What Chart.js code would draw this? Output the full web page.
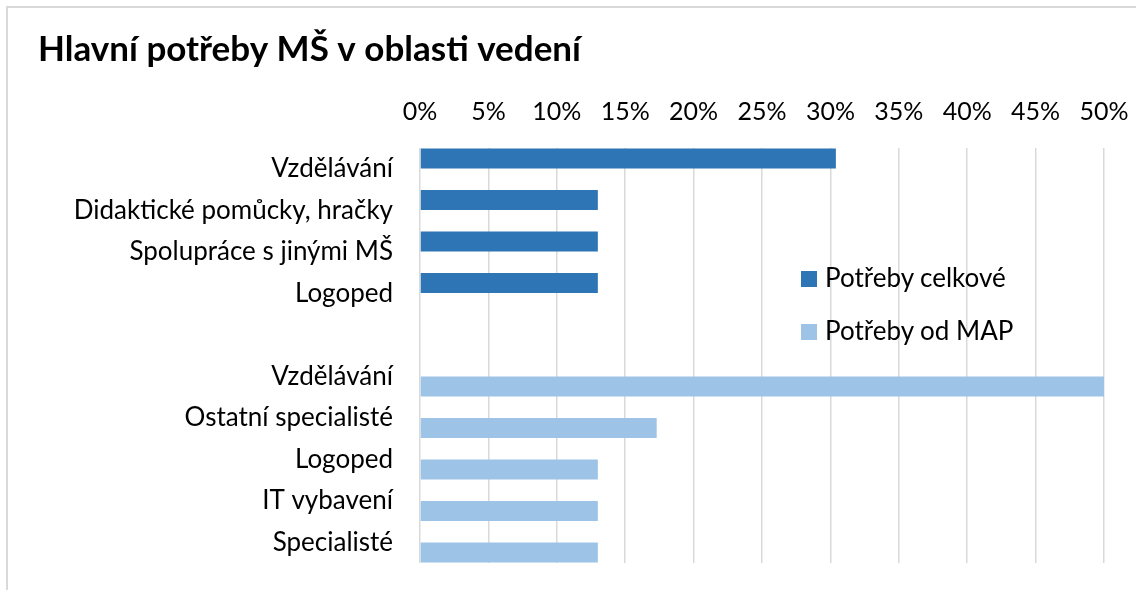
<!DOCTYPE html>
<html>
<head>
<meta charset="utf-8">
<script src="https://cdn.jsdelivr.net/npm/chart.js@4/dist/chart.umd.min.js"></script>
<style>
body { margin: 0; background: #fff; font-family: Lato, sans-serif; }
#frame { position: absolute; left: 6px; top: 6px; width: 1140px; height: 600px; border: 2px solid #d9d9d9; box-sizing: border-box; }
#wrap { position: absolute; left: 0; top: 0; width: 1136px; height: 590px; }
#legend { position: absolute; left: 801px; top: 262px; font-size: 26px; color: #000; }
.item { height: 53px; line-height: 30px; white-space: nowrap; }
.box { display: inline-block; width: 16px; height: 16px; margin-right: 8px; vertical-align: 0px; }
</style>
</head>
<body>
<div id="frame"></div>
<div id="wrap"><canvas id="canvasPotreby" width="1136" height="590"></canvas></div>
<div id="legend"></div>
<script>
var kategorie = ['Vzdělávání', 'Didaktické pomůcky, hračky', 'Spolupráce s jinými MŠ', 'Logoped', '',
    'Vzdělávání', 'Ostatní specialisté', 'Logoped', 'IT vybavení', 'Specialisté'];
var potreby_celkove = [30.4, 13, 13, 13, null, null, null, null, null, null];
var potreby_map = [null, null, null, null, null, 50, 17.3, 13, 13, 13];
var osa_ticks = [0, 5, 10, 15, 20, 25, 30, 35, 40, 45, 50];

function createDataSet(strlabel, color, data){
    var set = {
        label: strlabel,
        backgroundColor: color,
        borderWidth: 0,
        data: data,
        categoryPercentage: 0.98,
        barPercentage: 0.98
    };
    return set;
}

var datasets = [
    createDataSet('Potřeby celkové', '#2E75B6', potreby_celkove),
    createDataSet('Potřeby od MAP', '#9DC3E6', potreby_map)
];

var ctx = document.getElementById('canvasPotreby').getContext('2d');
var chart = new Chart(ctx, {
    type: 'bar',
    data: { labels: kategorie, datasets: datasets },
    options: {
        responsive: false,
        animation: false,
        indexAxis: 'y',
        layout: { padding: { left: 38, top: 29, right: 32, bottom: 27 } },
        plugins: {
            legend: { display: false },
            tooltip: { enabled: false },
            title: {
                display: true,
                text: 'Hlavní potřeby MŠ v oblasti vedení',
                align: 'start',
                color: '#000',
                font: { family: 'Lato', size: 35, weight: 'bold' },
                padding: { top: 0, bottom: 12 }
            }
        },
        scales: {
            x: {
                position: 'top',
                min: 0,
                max: 50,
                afterBuildTicks: function(scale){
                    scale.ticks = osa_ticks.map(function(v){ return { value: v }; });
                },
                afterFit: function(scale){
                    scale.height = 65;
                    scale.paddingLeft = 0;
                    scale.paddingRight = 0;
                },
                ticks: {
                    color: '#000',
                    padding: 21,
                    font: { family: 'Lato', size: 25 },
                    callback: function(v){ return v + '%'; }
                },
                grid: { color: '#d9d9d9', lineWidth: 1.5, drawTicks: false },
                border: { display: false }
            },
            y: {
                afterFit: function(scale){
                    scale.width = 382;
                    scale.paddingTop = 0;
                    scale.paddingBottom = 0;
                },
                ticks: {
                    color: '#000',
                    padding: 27,
                    font: { family: 'Lato', size: 26 },
                    autoSkip: false
                },
                grid: { display: false, drawTicks: false },
                border: { display: false }
            }
        }
    }
});

var legend = document.getElementById('legend');
chart.data.datasets.forEach(function(ds){
    var item = document.createElement('div');
    item.className = 'item';
    item.innerHTML = '<span class="box" style="background:' + ds.backgroundColor + '"></span>' + ds.label;
    legend.appendChild(item);
});
</script>
</body>
</html>
